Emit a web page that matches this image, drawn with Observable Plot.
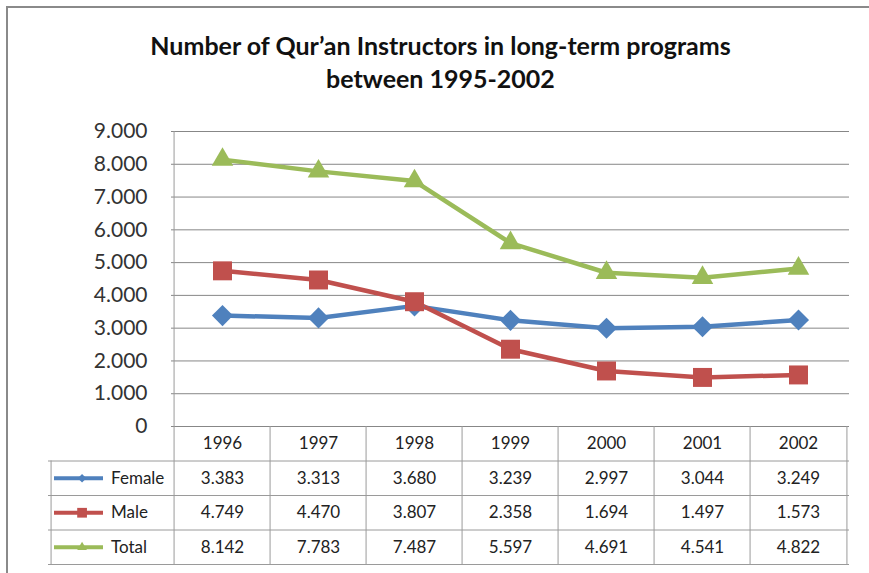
<!DOCTYPE html>
<html><head><meta charset="utf-8">
<script src="https://cdn.jsdelivr.net/npm/d3@7"></script>
<script src="https://cdn.jsdelivr.net/npm/@observablehq/plot@0.6"></script>
<style>
html,body{margin:0;padding:0;background:#fff;overflow:hidden;}
#wrap{position:relative;width:869px;height:573px;overflow:hidden;font-family:Lato,sans-serif;}
#chart{position:absolute;left:0;top:0;}
#border{position:absolute;left:6px;top:6px;width:900px;height:600px;border-left:2px solid #8a8a8a;border-top:2px solid #8a8a8a;pointer-events:none;}
#title{position:absolute;left:0;width:881px;top:29px;text-align:center;font-weight:bold;font-size:25px;line-height:33px;color:#111;}
</style></head>
<body>
<div id="wrap"><div id="chart"></div><div id="border"></div>
<div id="title">Number of Qur’an Instructors in long-term programs<br>between 1995-2002</div></div>
<script>
const years = ["1996","1997","1998","1999","2000","2001","2002"];
const female = [3383,3313,3680,3239,2997,3044,3249];
const male = [4749,4470,3807,2358,1694,1497,1573];
const total = [8142,7783,7487,5597,4691,4541,4822];
const seriesNames = ["Female","Male","Total"];
const seriesValues = [female, male, total];
const seriesColors = ["#4F81BD","#C0504D","#9BBB59"];
const seriesSymbols = ["diamond2","square","triangle"];
const yTicks = [0,1000,2000,3000,4000,5000,6000,7000,8000,9000];

const fmt = d3.formatLocale({decimal:",", thousands:".", grouping:[3], currency:["",""]}).format(",d");

const W = 869, H = 573, mL = 171, mR = 20, mT = 131, mB = 9;
const zeroY = 426;
const bw = (W - mL - mR) / years.length;
const rowH = 34.5;
const firstCenter = mL + bw / 2;
const gridColor = "#878787", tableColor = "#9a9a9a";
const markerR = [9.5, 10.7, 8];
const legendR = [3.8, 5.5, 3.6];

const long = seriesNames.flatMap((s, k) => years.map((yr, i) => ({series: s, year: yr, value: seriesValues[k][i], k})));

const marks = [
  Plot.gridY(yTicks, {stroke: gridColor, strokeOpacity: 1}),
  // y tick labels
  Plot.text(yTicks, {y: d => d, frameAnchor: "left", dx: -24, textAnchor: "end", text: d => fmt(d), fontSize: 21, fill: "#333"}),
  // table horizontal lines
  ...[1,2,3,4].map(j => Plot.ruleY([0], {dy: rowH * j, insetLeft: 48 - mL, stroke: tableColor})),
  // table vertical lines
  Plot.ruleX([years[0]], {dx: -bw / 2, stroke: tableColor}),
  Plot.ruleX(years.slice(1), {dx: -bw / 2, insetTop: zeroY - mT, stroke: tableColor}),
  Plot.ruleX([years[years.length - 1]], {dx: bw / 2, insetTop: zeroY - mT, stroke: tableColor}),
  Plot.ruleX([years[0]], {dx: 48 - firstCenter, insetTop: zeroY - mT + rowH, stroke: tableColor}),
  // header years
  Plot.text(years, {x: d => d, y: 0, dy: rowH / 2, fontSize: 17, fill: "#222"}),
  // lines
  Plot.line(long, {x: "year", y: "value", z: "series", stroke: "series", strokeWidth: 4.5}),
];
seriesNames.forEach((s, k) => {
  const rows = long.filter(d => d.k === k);
  const dyRow = rowH * (k + 1.5);
  marks.push(
    Plot.dot(rows, {x: "year", y: "value", symbol: seriesSymbols[k], r: markerR[k], fill: seriesColors[k], stroke: "none"}),
    Plot.text(rows, {x: "year", y: 0, dy: dyRow, text: d => fmt(d.value), fontSize: 17, fill: "#222"}),
    Plot.text([s], {x: () => years[0], y: 0, dy: dyRow, dx: 108 - firstCenter, textAnchor: "start", fontSize: 17, fill: "#222"}),
    Plot.ruleY([0], {dy: dyRow, insetLeft: 54 - mL, insetRight: (W - mR) - 103, stroke: seriesColors[k], strokeWidth: 4}),
    Plot.dot([s], {x: () => years[0], y: 0, dx: 79 - firstCenter, dy: dyRow, symbol: seriesSymbols[k], r: legendR[k], fill: seriesColors[k], stroke: "none"})
  );
});

const chart = Plot.plot({
  width: W, height: H,
  marginLeft: mL, marginRight: mR, marginTop: mT, marginBottom: mB,
  style: {background: "transparent", fontFamily: "Lato, sans-serif", color: "#333", overflow: "visible"},
  x: {type: "band", domain: years, padding: 0, axis: null},
  y: {domain: [0, 9000], range: [zeroY, mT], axis: null},
  color: {domain: seriesNames, range: seriesColors},
  marks
});
document.getElementById("chart").appendChild(chart);
</script>
</body></html>
